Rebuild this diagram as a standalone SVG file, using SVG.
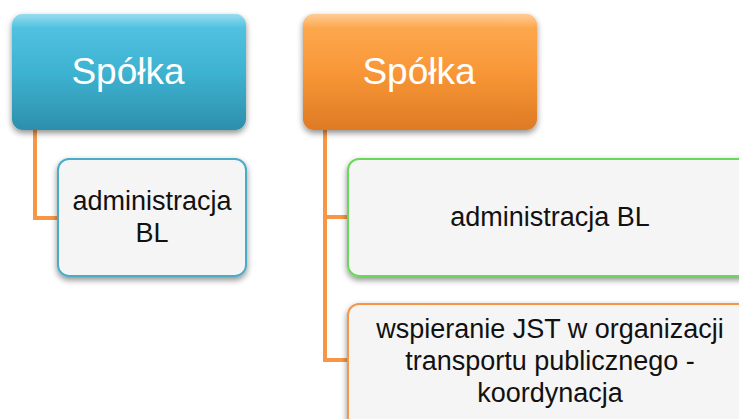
<svg xmlns="http://www.w3.org/2000/svg" width="739" height="419" viewBox="0 0 739 419">
<defs>
<linearGradient id="gBlue" x1="0" y1="0" x2="0" y2="1">
<stop offset="0" stop-color="#45C0E2"/>
<stop offset="0.5" stop-color="#35AFCF"/>
<stop offset="1" stop-color="#2C8FAB"/>
</linearGradient>
<linearGradient id="gOrange" x1="0" y1="0" x2="0" y2="1">
<stop offset="0" stop-color="#FEA443"/>
<stop offset="0.5" stop-color="#F8922E"/>
<stop offset="1" stop-color="#DE7A24"/>
</linearGradient>
<linearGradient id="gGloss" x1="0" y1="0" x2="0" y2="1">
<stop offset="0" stop-color="#fff" stop-opacity="0.45"/>
<stop offset="0.12" stop-color="#fff" stop-opacity="0.08"/>
<stop offset="1" stop-color="#fff" stop-opacity="0"/>
</linearGradient>
<filter id="sh" x="-10%" y="-10%" width="120%" height="130%">
<feGaussianBlur in="SourceAlpha" stdDeviation="3"/>
<feOffset dx="0" dy="3" result="b"/>
<feComponentTransfer><feFuncA type="linear" slope="0.45"/></feComponentTransfer>
<feMerge><feMergeNode/><feMergeNode in="SourceGraphic"/></feMerge>
</filter>
</defs>
<style>
.head{font-family:"Liberation Sans",Arial,sans-serif;font-size:37px;fill:#ffffff;text-anchor:middle}
.lbl{font-family:"Liberation Sans",Arial,sans-serif;font-size:27px;fill:#111111;text-anchor:middle}
.child{fill:#F5F5F5;stroke-width:2}
.conn{fill:none;stroke:#F79646;stroke-width:4}
</style>
<g id="connectors">
<path class="conn" d="M35 130 V218 H58"/>
<path class="conn" d="M325 130 V360 H348"/>
<path class="conn" d="M325 217 H348"/>
</g>
<g id="head-left">
<rect x="12" y="14" width="234" height="116" rx="11" fill="url(#gBlue)" filter="url(#sh)"/>
<rect x="12" y="14" width="234" height="116" rx="11" fill="url(#gGloss)"/>
<text class="head" x="128" y="84">Spółka</text>
</g>
<g id="head-right">
<rect x="303" y="14" width="234" height="116" rx="11" fill="url(#gOrange)" filter="url(#sh)"/>
<rect x="303" y="14" width="234" height="116" rx="11" fill="url(#gGloss)"/>
<text class="head" x="419" y="84">Spółka</text>
</g>
<g id="child-left">
<rect class="child" x="58" y="159" width="188" height="117" rx="11" stroke="#4BACC6" filter="url(#sh)"/>
<text class="lbl" x="152" y="210">administracja</text>
<text class="lbl" x="152" y="242">BL</text>
</g>
<g id="child-right-1">
<rect class="child" x="348" y="159" width="404" height="117" rx="11" stroke="#6AD85A" filter="url(#sh)"/>
<text class="lbl" x="550" y="226">administracja BL</text>
</g>
<g id="child-right-2">
<rect class="child" x="348" y="304" width="404" height="130" rx="11" stroke="#F79646" filter="url(#sh)"/>
<text class="lbl" x="550" y="338">wspieranie JST w organizacji</text>
<text class="lbl" x="550" y="370">transportu publicznego -</text>
<text class="lbl" x="550" y="402">koordynacja</text>
</g>
</svg>
